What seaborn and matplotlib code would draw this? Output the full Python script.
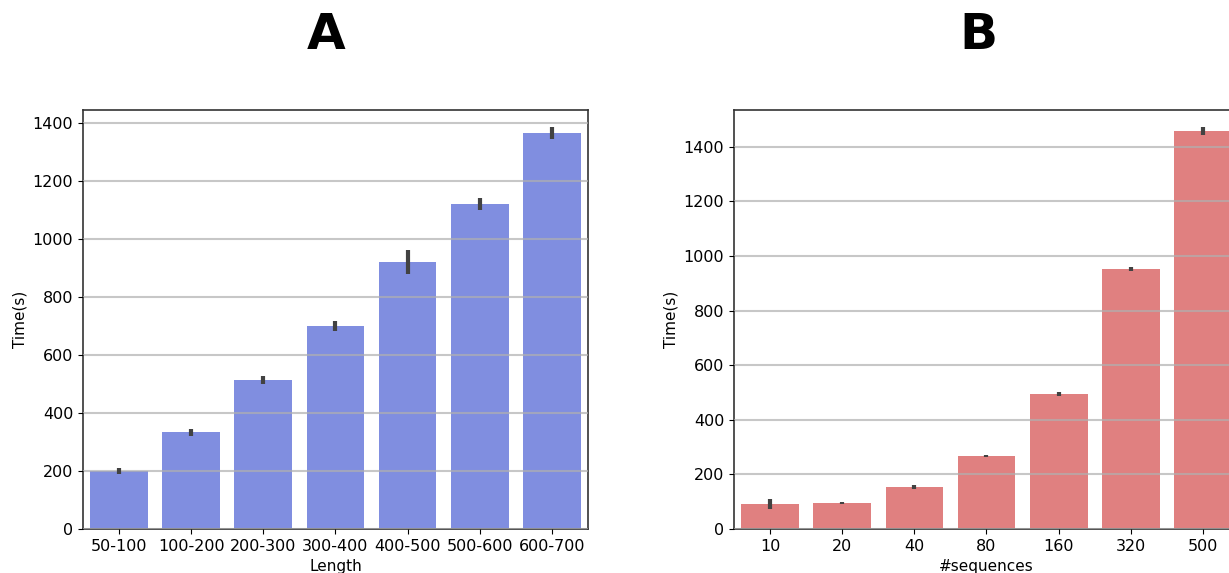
import matplotlib
matplotlib.use("Agg")
import matplotlib.pyplot as plt
import seaborn as sns
import pandas as pd

# -----------------------------
# Data
# -----------------------------
length_bins = ["50-100", "100-200", "200-300", "300-400", "400-500", "500-600", "600-700"]
length_time = [200, 334, 514, 700, 921, 1120, 1366]
length_err = [12, 12, 15, 17, 40, 20, 20]

n_sequences = ["10", "20", "40", "80", "160", "320", "500"]
seq_time = [92, 95, 154, 267, 495, 953, 1458]
seq_err = [17, 5, 6, 5, 6, 6, 13]

plt.rcParams["font.family"] = ["DejaVu Sans"]


def draw_panel(ax, labels, values, errs, color, xlabel):
    df = pd.DataFrame({"x": labels, "y": values})
    sns.barplot(data=df, x="x", y="y", color=color, saturation=1, ax=ax,
                errorbar=None, width=0.8, linewidth=0)
    ax.errorbar(range(len(labels)), values, yerr=errs, fmt="none",
                ecolor="#424242", elinewidth=3, capsize=0, zorder=3)
    ax.set_xlabel(xlabel, fontsize=11, labelpad=4)
    ax.set_ylabel("Time(s)", fontsize=11)
    ax.tick_params(labelsize=11.5)
    ax.set_xlim(-0.5, len(labels) - 0.5)
    ax.set_axisbelow(False)
    ax.yaxis.grid(True, color="#b0b0b0", alpha=0.7, linewidth=1.5)
    for s in ax.spines.values():
        s.set_visible(True)
        s.set_color("#333333")
        s.set_linewidth(1.2)


fig = plt.figure(figsize=(12.29, 5.73), dpi=100)
ax_a = fig.add_axes([83 / 1229, 44 / 573, 505 / 1229, 419 / 573])
ax_b = fig.add_axes([734 / 1229, 44 / 573, 505 / 1229, 419 / 573])

draw_panel(ax_a, length_bins, length_time, length_err, "#808EE0", "Length")
draw_panel(ax_b, n_sequences, seq_time, seq_err, "#E08080", "#sequences")
ax_a.set_ylim(0, 1445)
ax_b.set_ylim(0, 1535)

fig.text(326 / 1229, 1 - 35 / 573, "A", fontsize=36, fontweight="bold", ha="center", va="center")
fig.text(978 / 1229, 1 - 35 / 573, "B", fontsize=36, fontweight="bold", ha="center", va="center")

fig.savefig("out.png", dpi=100)
